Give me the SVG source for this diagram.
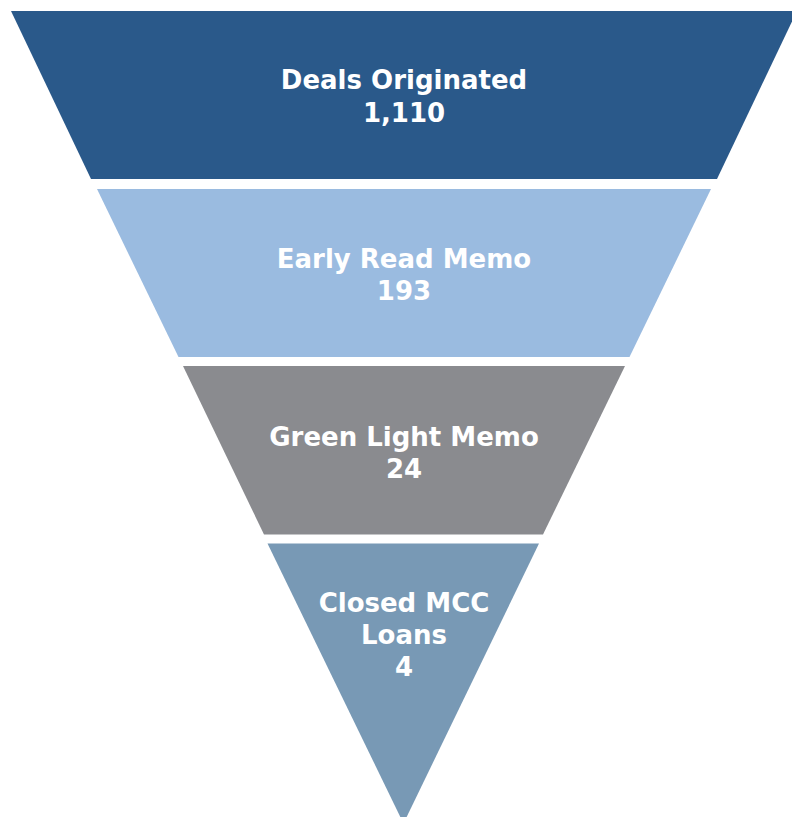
<svg xmlns="http://www.w3.org/2000/svg" width="792" height="817" viewBox="0 0 792 817">
<style>
.lbl{font-family:"DejaVu Sans","Verdana",sans-serif;font-weight:bold;font-size:26px;fill:#ffffff;text-anchor:middle}
</style>
<rect width="792" height="817" fill="#ffffff"/>
<g id="stage1">
<polygon points="11,11 797,11 717,179 91,179" fill="#2A598A"/>
<text class="lbl" x="404" y="89">Deals Originated</text>
<text class="lbl" x="404" y="121.5">1,110</text>
</g>
<g id="stage2">
<polygon points="97,189 711,189 629.5,357 178.5,357" fill="#9ABBE0"/>
<text class="lbl" x="404" y="267.5">Early Read Memo</text>
<text class="lbl" x="404" y="299.5">193</text>
</g>
<g id="stage3">
<polygon points="183,366 625,366 543,534.5 264,534.5" fill="#8A8B8F"/>
<text class="lbl" x="404" y="446">Green Light Memo</text>
<text class="lbl" x="404" y="478">24</text>
</g>
<g id="stage4">
<polygon points="267.5,543.5 539,543.5 403.5,823.5" fill="#7899B5"/>
<text class="lbl" x="404" y="611.5">Closed MCC</text>
<text class="lbl" x="404" y="643.5">Loans</text>
<text class="lbl" x="404" y="675.5">4</text>
</g>
<g id="connectors"/>
</svg>
